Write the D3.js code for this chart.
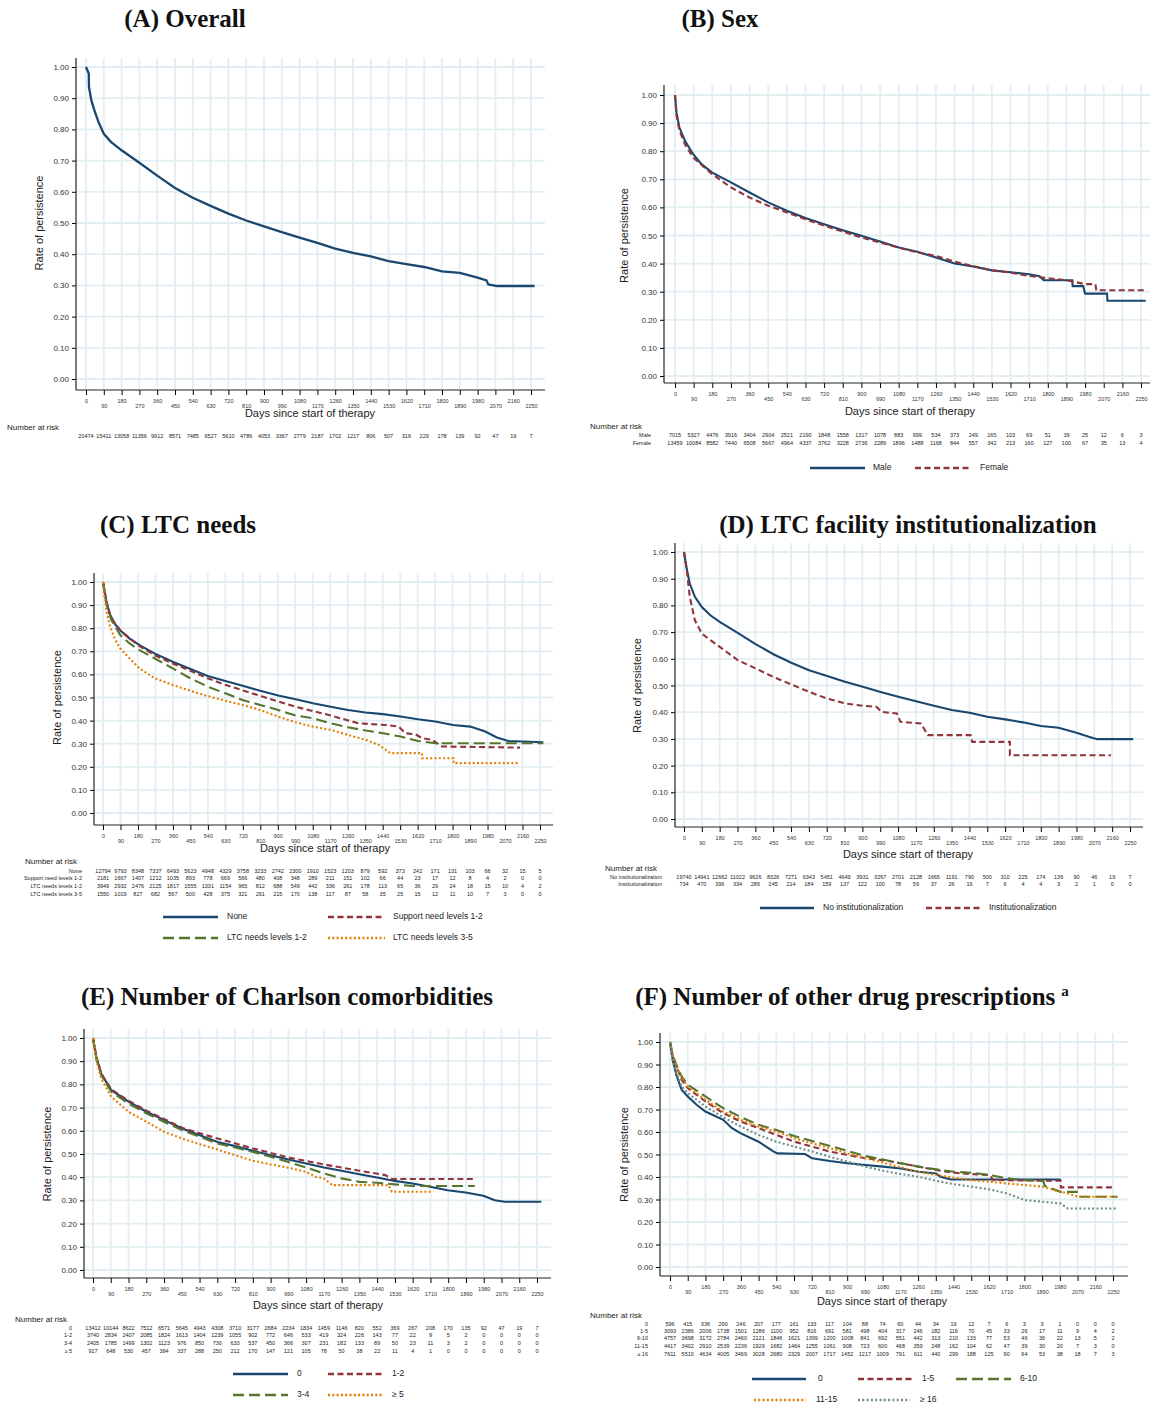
<!DOCTYPE html>
<html>
<head>
<meta charset="UTF-8">
<title>Persistence curves</title>
<script src="https://d3js.org/d3.v7.min.js"></script>
<style>
    body { margin: 0; background: #fff; }
    svg { display: block; font-family: "Liberation Sans", Arial, sans-serif; }
    .title { font-family: "Liberation Serif", "Times New Roman", serif; font-weight: bold; font-size: 25px; text-anchor: middle; fill: #111; }
</style>
</head>
<body>
<svg id="chart" width="1156" height="1404"></svg>
<script>
// axis ticks
const dayTicks = [0, 90, 180, 270, 360, 450, 540, 630, 720, 810, 900, 990, 1080, 1170, 1260, 1350, 1440, 1530, 1620, 1710, 1800, 1890, 1980, 2070, 2160, 2250];
const rateTicks = [0, 0.1, 0.2, 0.3, 0.4, 0.5, 0.6, 0.7, 0.8, 0.9, 1.0];

// (A) overall: [day, rate]
const aOverall = [[0,1],[14,0.979],[15,0.936],[27,0.893],[45,0.856],[63,0.824],[90,0.786],[126,0.760],[180,0.733],[270,0.693],[360,0.652],[450,0.612],[540,0.581],[630,0.555],[720,0.530],[810,0.508],[900,0.489],[990,0.471],[1080,0.453],[1170,0.436],[1260,0.418],[1350,0.404],[1440,0.393],[1530,0.378],[1620,0.368],[1710,0.359],[1800,0.345],[1890,0.340],[1980,0.325],[2025,0.316],[2034,0.303],[2079,0.298],[2268,0.298]];
const riskA = [20474,15411,13058,11356,9912,8571,7485,6527,5610,4786,4053,3367,2779,2187,1702,1217,806,507,316,229,178,139,92,47,19,7];

// (B) sex
const bMale = [[0,1],[7,0.938],[21,0.885],[48,0.837],[87,0.79],[128,0.754],[180,0.724],[270,0.689],[360,0.653],[450,0.618],[540,0.588],[630,0.562],[720,0.54],[810,0.519],[900,0.499],[990,0.479],[1080,0.457],[1170,0.442],[1260,0.422],[1350,0.40],[1440,0.39],[1530,0.376],[1620,0.369],[1710,0.362],[1760,0.355],[1780,0.341],[1918,0.341],[1920,0.32],[1971,0.32],[1980,0.293],[2086,0.293],[2088,0.268],[2273,0.268]];
const bFemale = [[0,1],[7,0.93],[21,0.875],[48,0.825],[87,0.778],[180,0.718],[270,0.671],[360,0.635],[450,0.606],[540,0.582],[630,0.558],[720,0.535],[810,0.514],[900,0.493],[990,0.475],[1080,0.457],[1170,0.44],[1260,0.427],[1350,0.407],[1440,0.391],[1530,0.376],[1620,0.368],[1710,0.356],[1800,0.348],[1890,0.341],[1980,0.327],[2030,0.327],[2034,0.305],[2273,0.305]];
const riskMale = [7015,5327,4476,3916,3404,2904,2521,2190,1848,1558,1317,1078,883,699,534,373,249,165,103,69,51,39,25,12,6,3];
const riskFemale = [13459,10084,8582,7440,6508,5667,4964,4337,3762,3228,2736,2289,1896,1488,1168,844,557,342,213,160,127,100,67,35,13,4];

// (C) LTC needs
const cNone = [[0,1],[17,0.92],[34,0.863],[60,0.82],[89,0.79],[137,0.755],[188,0.727],[267,0.69],[359,0.655],[450,0.623],[539,0.593],[630,0.571],[719,0.551],[809,0.529],[902,0.509],[992,0.492],[1081,0.475],[1172,0.46],[1261,0.446],[1352,0.435],[1442,0.428],[1531,0.418],[1622,0.406],[1711,0.396],[1802,0.381],[1891,0.374],[1968,0.353],[2028,0.327],[2087,0.312],[2267,0.306]];
const cSupport = [[0,1],[17,0.914],[43,0.842],[89,0.791],[188,0.722],[267,0.683],[359,0.647],[450,0.616],[539,0.583],[633,0.554],[821,0.504],[992,0.46],[1163,0.424],[1317,0.388],[1454,0.381],[1523,0.374],[1557,0.345],[1608,0.341],[1643,0.324],[1694,0.317],[1745,0.288],[2147,0.283]];
const cLtc12 = [[0,1],[17,0.906],[43,0.835],[89,0.77],[137,0.734],[188,0.705],[267,0.669],[359,0.626],[450,0.583],[539,0.547],[630,0.518],[719,0.489],[809,0.468],[902,0.446],[992,0.422],[1081,0.41],[1172,0.388],[1261,0.371],[1352,0.357],[1442,0.345],[1531,0.331],[1622,0.312],[1711,0.302],[2267,0.302]];
const cLtc35 = [[0,1],[17,0.878],[34,0.813],[60,0.755],[89,0.712],[137,0.669],[188,0.626],[267,0.583],[359,0.554],[450,0.529],[539,0.506],[630,0.486],[719,0.468],[809,0.446],[902,0.417],[992,0.393],[1081,0.374],[1172,0.36],[1261,0.338],[1352,0.317],[1420,0.295],[1480,0.259],[1643,0.259],[1643,0.237],[1805,0.237],[1805,0.216],[2139,0.216]];
const riskNone = [12794,9793,8348,7337,6493,5623,4948,4329,3758,3233,2742,2300,1910,1523,1203,879,592,373,242,171,131,103,66,32,15,5];
const riskSupport = [2181,1667,1407,1212,1035,893,778,669,566,480,408,348,289,211,151,102,66,44,23,17,12,8,4,2,0,0];
const riskLtc12 = [3949,2932,2476,2125,1817,1555,1331,1154,965,812,688,549,442,336,261,178,113,65,36,29,24,18,15,10,4,2];
const riskLtc35 = [1550,1019,827,682,567,500,428,375,321,261,215,170,138,117,87,58,35,25,15,12,11,10,7,3,0,0];

// (D) institutionalization
const dNoInst = [[0,1],[12,0.944],[29,0.882],[55,0.832],[90,0.794],[133,0.763],[180,0.738],[271,0.697],[361,0.655],[451,0.617],[541,0.585],[631,0.557],[722,0.536],[812,0.514],[902,0.495],[992,0.476],[1081,0.458],[1171,0.441],[1261,0.424],[1351,0.408],[1441,0.398],[1530,0.383],[1620,0.373],[1710,0.362],[1800,0.348],[1890,0.342],[1980,0.323],[2042,0.308],[2085,0.299],[2266,0.299]];
const dInst = [[0,1],[12,0.944],[29,0.832],[55,0.744],[90,0.694],[133,0.67],[180,0.645],[271,0.595],[361,0.564],[451,0.532],[541,0.504],[631,0.476],[722,0.451],[812,0.433],[902,0.424],[971,0.42],[997,0.401],[1074,0.395],[1092,0.364],[1195,0.358],[1230,0.314],[1446,0.314],[1454,0.289],[1644,0.289],[1644,0.239],[2154,0.239]];
const riskNoInst = [19740,14941,12662,11022,9626,8326,7271,6343,5451,4649,3931,3267,2701,2128,1665,1191,790,500,310,225,174,136,90,46,19,7];
const riskInst = [734,470,396,334,286,245,214,184,159,137,122,100,78,59,37,26,16,7,6,4,4,3,2,1,0,0];

// (E) Charlson comorbidities
const eC0 = [[0,1],[17,0.918],[42,0.846],[93,0.775],[182,0.725],[273,0.681],[362,0.646],[451,0.61],[542,0.581],[631,0.552],[720,0.534],[811,0.514],[900,0.495],[990,0.476],[1080,0.459],[1170,0.442],[1259,0.428],[1350,0.413],[1439,0.399],[1528,0.384],[1619,0.373],[1708,0.359],[1797,0.344],[1888,0.334],[1978,0.32],[2036,0.301],[2087,0.294],[2272,0.294]];
const eC12 = [[0,1],[17,0.918],[42,0.846],[93,0.778],[182,0.729],[273,0.686],[362,0.65],[451,0.613],[631,0.567],[811,0.524],[990,0.485],[1170,0.455],[1350,0.428],[1481,0.409],[1515,0.392],[1935,0.392]];
const eC34 = [[0,1],[17,0.911],[42,0.839],[93,0.768],[182,0.717],[273,0.674],[362,0.638],[451,0.603],[542,0.574],[631,0.545],[720,0.528],[811,0.509],[900,0.488],[990,0.466],[1080,0.442],[1170,0.416],[1259,0.395],[1350,0.38],[1439,0.376],[1528,0.369],[1619,0.362],[1935,0.362]];
const eC5 = [[0,1],[17,0.904],[42,0.825],[93,0.746],[182,0.681],[273,0.638],[362,0.595],[451,0.567],[542,0.542],[631,0.519],[720,0.495],[811,0.471],[900,0.455],[990,0.441],[1080,0.423],[1128,0.402],[1170,0.395],[1212,0.366],[1498,0.366],[1515,0.337],[1725,0.337]];
const riskC0 = [13412,10144,8622,7512,6571,5645,4943,4308,3710,3177,2684,2234,1834,1459,1146,820,552,369,267,208,170,135,92,47,19,7];
const riskC12 = [3740,2834,2407,2085,1824,1613,1404,1239,1055,902,772,646,533,419,324,226,143,77,22,9,5,2,0,0,0,0];
const riskC34 = [2405,1785,1499,1302,1123,976,850,730,633,537,450,366,307,231,182,133,89,50,23,11,3,2,0,0,0,0];
const riskC5 = [917,648,530,457,394,337,288,250,212,170,147,121,105,78,50,38,22,11,4,1,0,0,0,0,0,0];

// (F) other drug prescriptions
const fD0 = [[0,1],[14,0.921],[32,0.854],[59,0.788],[90,0.758],[135,0.721],[180,0.691],[270,0.654],[315,0.617],[360,0.594],[450,0.557],[527,0.513],[545,0.505],[686,0.502],[722,0.483],[812,0.471],[902,0.461],[992,0.453],[1082,0.446],[1172,0.438],[1262,0.423],[1352,0.416],[1373,0.401],[1427,0.389],[1985,0.389]];
const fD15 = [[0,1],[14,0.936],[32,0.892],[59,0.832],[90,0.795],[180,0.736],[270,0.684],[360,0.646],[450,0.617],[540,0.587],[632,0.557],[722,0.535],[812,0.513],[902,0.498],[992,0.483],[1082,0.475],[1172,0.461],[1262,0.446],[1352,0.431],[1442,0.419],[1532,0.413],[1622,0.409],[1643,0.386],[1985,0.383],[1985,0.354],[2246,0.354]];
const fD610 = [[0,1],[14,0.944],[32,0.899],[59,0.847],[90,0.81],[180,0.758],[270,0.706],[360,0.666],[450,0.632],[540,0.609],[632,0.582],[722,0.56],[812,0.538],[902,0.516],[992,0.493],[1082,0.478],[1172,0.461],[1262,0.446],[1352,0.434],[1442,0.423],[1532,0.419],[1622,0.409],[1712,0.394],[1802,0.386],[1895,0.383],[1904,0.36],[1985,0.334],[2075,0.334],[2084,0.312],[2273,0.312]];
const fD1115 = [[0,1],[14,0.936],[32,0.892],[59,0.84],[90,0.802],[180,0.743],[270,0.691],[360,0.654],[450,0.624],[540,0.602],[632,0.572],[722,0.55],[812,0.528],[902,0.505],[992,0.483],[1082,0.464],[1172,0.443],[1262,0.423],[1352,0.409],[1442,0.397],[1532,0.386],[1622,0.379],[1712,0.371],[1802,0.364],[1895,0.357],[1949,0.342],[2021,0.327],[2075,0.312],[2273,0.312]];
const fD16 = [[0,1],[14,0.914],[32,0.862],[59,0.802],[90,0.773],[180,0.713],[270,0.666],[360,0.624],[450,0.587],[540,0.557],[632,0.535],[722,0.513],[812,0.49],[902,0.468],[992,0.446],[1082,0.428],[1172,0.413],[1262,0.401],[1352,0.383],[1442,0.368],[1532,0.357],[1622,0.345],[1712,0.327],[1802,0.297],[1895,0.29],[1985,0.282],[2021,0.26],[2273,0.26]];
const riskD0 = [596,415,336,290,246,207,177,161,133,117,104,88,74,60,44,34,19,12,7,6,3,3,1,0,0,0];
const riskD15 = [3093,2386,2006,1738,1501,1286,1100,952,816,691,581,498,404,317,246,182,116,70,45,33,26,17,11,9,4,2];
const riskD610 = [4757,3698,3172,2784,2460,2121,1846,1621,1399,1200,1008,841,692,551,442,313,210,133,77,53,46,36,22,13,5,2];
const riskD1115 = [4417,3402,2910,2539,2236,1929,1682,1464,1255,1061,908,723,600,468,359,248,162,104,62,47,39,30,20,7,3,0];
const riskD16 = [7611,5510,4634,4005,3469,3028,2680,2329,2007,1717,1452,1217,1009,791,611,440,299,188,125,90,64,53,38,18,7,3];

// Stata s2color-like palette
const navy = "#1a476f", maroon = "#90353b", green = "#55752f", orange = "#e37e00", teal = "#6e8e84";
const dashes = { solid: null, dash: "6,3.5", long: "11,5", dot: "2,2.3" };
const gridColor = "#e3eef2";

const svg = d3.select("#chart");

function drawPanel(p) {
    const g = svg.append("g");
    const x = d3.scaleLinear().domain([0, 2250]).range([p.x0, p.x1]);
    const y = d3.scaleLinear().domain([0, 1]).range([p.y0, p.y1]);

    // grid
    g.selectAll(".hg").data(rateTicks).join("line")
        .attr("x1", p.ax).attr("x2", p.gr)
        .attr("y1", d => y(d)).attr("y2", d => y(d))
        .attr("stroke", gridColor).attr("stroke-width", 1.8);
    g.selectAll(".vg").data(dayTicks).join("line")
        .attr("x1", d => x(d)).attr("x2", d => x(d))
        .attr("y1", p.top).attr("y2", p.xay)
        .attr("stroke", gridColor).attr("stroke-width", 1.8);

    // y axis
    const ya = g.append("g").attr("transform", `translate(${p.ax},0)`)
        .call(d3.axisLeft(y).tickValues(rateTicks).tickFormat(d3.format(".2f")).tickSize(4).tickPadding(3));
    ya.select(".domain").remove();
    ya.selectAll("text").style("font-size", "8px").attr("fill", "#333");
    g.append("line").attr("x1", p.ax).attr("x2", p.ax).attr("y1", p.top).attr("y2", p.xay)
        .attr("stroke", "#222").attr("stroke-width", 1.2);

    // x axis, labels staggered on two rows
    const xa = g.append("g").attr("transform", `translate(0,${p.xay})`)
        .call(d3.axisBottom(x).tickValues(dayTicks).tickFormat(d3.format("d")).tickSize(5).tickPadding(3));
    xa.select(".domain").remove();
    xa.selectAll("text").style("font-size", "5.5px").attr("fill", "#333")
        .attr("dy", (d, i) => i % 2 ? "1.9em" : "0.9em");
    g.append("line").attr("x1", p.ax).attr("x2", p.gr).attr("y1", p.xay).attr("y2", p.xay)
        .attr("stroke", "#222").attr("stroke-width", 1.2);

    // axis titles
    g.append("text").attr("transform", `translate(${p.yt},${(p.y0 + p.y1) / 2}) rotate(-90)`)
        .attr("text-anchor", "middle").attr("dominant-baseline", "middle")
        .style("font-size", "11px").attr("fill", "#222").text("Rate of persistence");
    g.append("text").attr("x", p.xt[0]).attr("y", p.xt[1])
        .attr("text-anchor", "middle").attr("dominant-baseline", "middle")
        .style("font-size", "11px").attr("fill", "#222").text("Days since start of therapy");

    // curves
    const line = d3.line().x(d => x(d[0])).y(d => y(d[1]));
    p.series.forEach(s => {
        g.append("path").datum(s.data).attr("d", line)
            .attr("fill", "none").attr("stroke", s.color)
            .attr("stroke-width", s.w || 2.1)
            .attr("stroke-dasharray", dashes[s.dash]);
    });

    // title
    const t = svg.append("text").attr("class", "title").attr("x", p.title[1]).attr("y", p.title[2]).text(p.title[0]);
    if (p.sup) t.append("tspan").attr("dx", 6).attr("dy", -9).style("font-size", "15px").text(p.sup);

    // number at risk
    g.append("text").attr("x", p.nar[0]).attr("y", p.nar[1]).attr("dominant-baseline", "middle")
        .style("font-size", "8px").attr("fill", "#222").text("Number at risk");
    p.series.forEach((s, k) => {
        const ry = p.rows[k];
        if (s.label && p.rowLx) {
            g.append("text").attr("x", p.rowLx).attr("y", ry).attr("text-anchor", "end")
                .attr("dominant-baseline", "middle").style("font-size", "5.5px").attr("fill", "#222").text(s.label);
        }
        g.selectAll(null).data(s.risk).join("text")
            .attr("x", (d, i) => x(dayTicks[i])).attr("y", ry)
            .attr("text-anchor", "middle").attr("dominant-baseline", "middle")
            .style("font-size", "5.5px").attr("fill", "#222").text(d => d);
    });

    // legend
    if (p.legend) {
        p.legend.forEach((it, k) => {
            const s = p.series[k];
            g.append("line").attr("x1", it[0]).attr("x2", it[1]).attr("y1", it[3]).attr("y2", it[3])
                .attr("stroke", s.color).attr("stroke-width", 2.6).attr("stroke-dasharray", dashes[s.dash]);
            g.append("text").attr("x", it[2]).attr("y", it[3]).attr("dominant-baseline", "middle")
                .style("font-size", "8.5px").attr("fill", "#222").text(s.label);
        });
    }
}

const panels = [
    { title: ["(A) Overall", 185, 27], ax: 76, top: 58, x0: 86, x1: 531, y1: 67, y0: 379, xay: 390, gr: 545,
      yt: 40, xt: [310, 414], nar: [7, 428], rows: [437], rowLx: null,
      series: [{ data: aOverall, color: navy, dash: "solid", risk: riskA, w: 2.3 }] },
    { title: ["(B) Sex", 720, 27], ax: 664, top: 85, x0: 675, x1: 1141, y1: 95, y0: 376, xay: 383, gr: 1150,
      yt: 625, xt: [910, 412], nar: [590, 427], rows: [436, 444], rowLx: 651,
      series: [{ data: bMale, color: navy, dash: "solid", risk: riskMale, label: "Male" },
               { data: bFemale, color: maroon, dash: "dash", risk: riskFemale, label: "Female" }],
      legend: [[810, 865, 873, 468], [915, 970, 980, 468]] },
    { title: ["(C) LTC needs", 178, 533], ax: 94, top: 573, x0: 103, x1: 540, y1: 582, y0: 813, xay: 825, gr: 553,
      yt: 58, xt: [325, 849], nar: [25, 862], rows: [872, 879, 887, 895], rowLx: 82,
      series: [{ data: cNone, color: navy, dash: "solid", risk: riskNone, label: "None" },
               { data: cSupport, color: maroon, dash: "dash", risk: riskSupport, label: "Support need levels 1-2" },
               { data: cLtc12, color: green, dash: "long", risk: riskLtc12, label: "LTC needs levels 1-2" },
               { data: cLtc35, color: orange, dash: "dot", risk: riskLtc35, label: "LTC needs levels 3-5" }],
      legend: [[163, 218, 227, 917], [328, 385, 393, 917], [163, 218, 227, 938], [328, 385, 393, 938]] },
    { title: ["(D) LTC facility institutionalization", 908, 533], ax: 675, top: 543, x0: 684, x1: 1130, y1: 552, y0: 819, xay: 827, gr: 1143,
      yt: 638, xt: [908, 855], nar: [605, 869], rows: [878, 885], rowLx: 662,
      series: [{ data: dNoInst, color: navy, dash: "solid", risk: riskNoInst, label: "No institutionalization" },
               { data: dInst, color: maroon, dash: "dash", risk: riskInst, label: "Institutionalization" }],
      legend: [[760, 814, 823, 908], [926, 980, 989, 908]] },
    { title: ["(E) Number of Charlson comorbidities", 287, 1005], ax: 84, top: 1029, x0: 93, x1: 537, y1: 1038, y0: 1270, xay: 1278, gr: 551,
      yt: 48, xt: [318, 1306], nar: [15, 1320], rows: [1329, 1336, 1344, 1352], rowLx: 72,
      series: [{ data: eC0, color: navy, dash: "solid", risk: riskC0, label: "0" },
               { data: eC12, color: maroon, dash: "dash", risk: riskC12, label: "1-2" },
               { data: eC34, color: green, dash: "long", risk: riskC34, label: "3-4" },
               { data: eC5, color: orange, dash: "dot", risk: riskC5, label: "\u2265 5" }],
      legend: [[233, 288, 297, 1374], [328, 383, 392, 1374], [233, 288, 297, 1395], [328, 383, 392, 1395]] },
    { title: ["(F) Number of other drug prescriptions", 852, 1005], sup: "a", ax: 660, top: 1033, x0: 670, x1: 1113, y1: 1042, y0: 1267, xay: 1276, gr: 1128,
      yt: 625, xt: [882, 1302], nar: [590, 1316], rows: [1325, 1332, 1339, 1347, 1355], rowLx: 648,
      series: [{ data: fD0, color: navy, dash: "solid", risk: riskD0, label: "0" },
               { data: fD15, color: maroon, dash: "dash", risk: riskD15, label: "1-5" },
               { data: fD610, color: green, dash: "long", risk: riskD610, label: "6-10" },
               { data: fD1115, color: orange, dash: "dot", risk: riskD1115, label: "11-15" },
               { data: fD16, color: teal, dash: "dot", risk: riskD16, label: "\u2265 16" }],
      legend: [[752, 806, 818, 1379], [858, 912, 922, 1379], [956, 1011, 1020, 1379], [754, 806, 816, 1400], [858, 910, 920, 1400]] }
];

panels.forEach(drawPanel);
</script>
</body>
</html>
